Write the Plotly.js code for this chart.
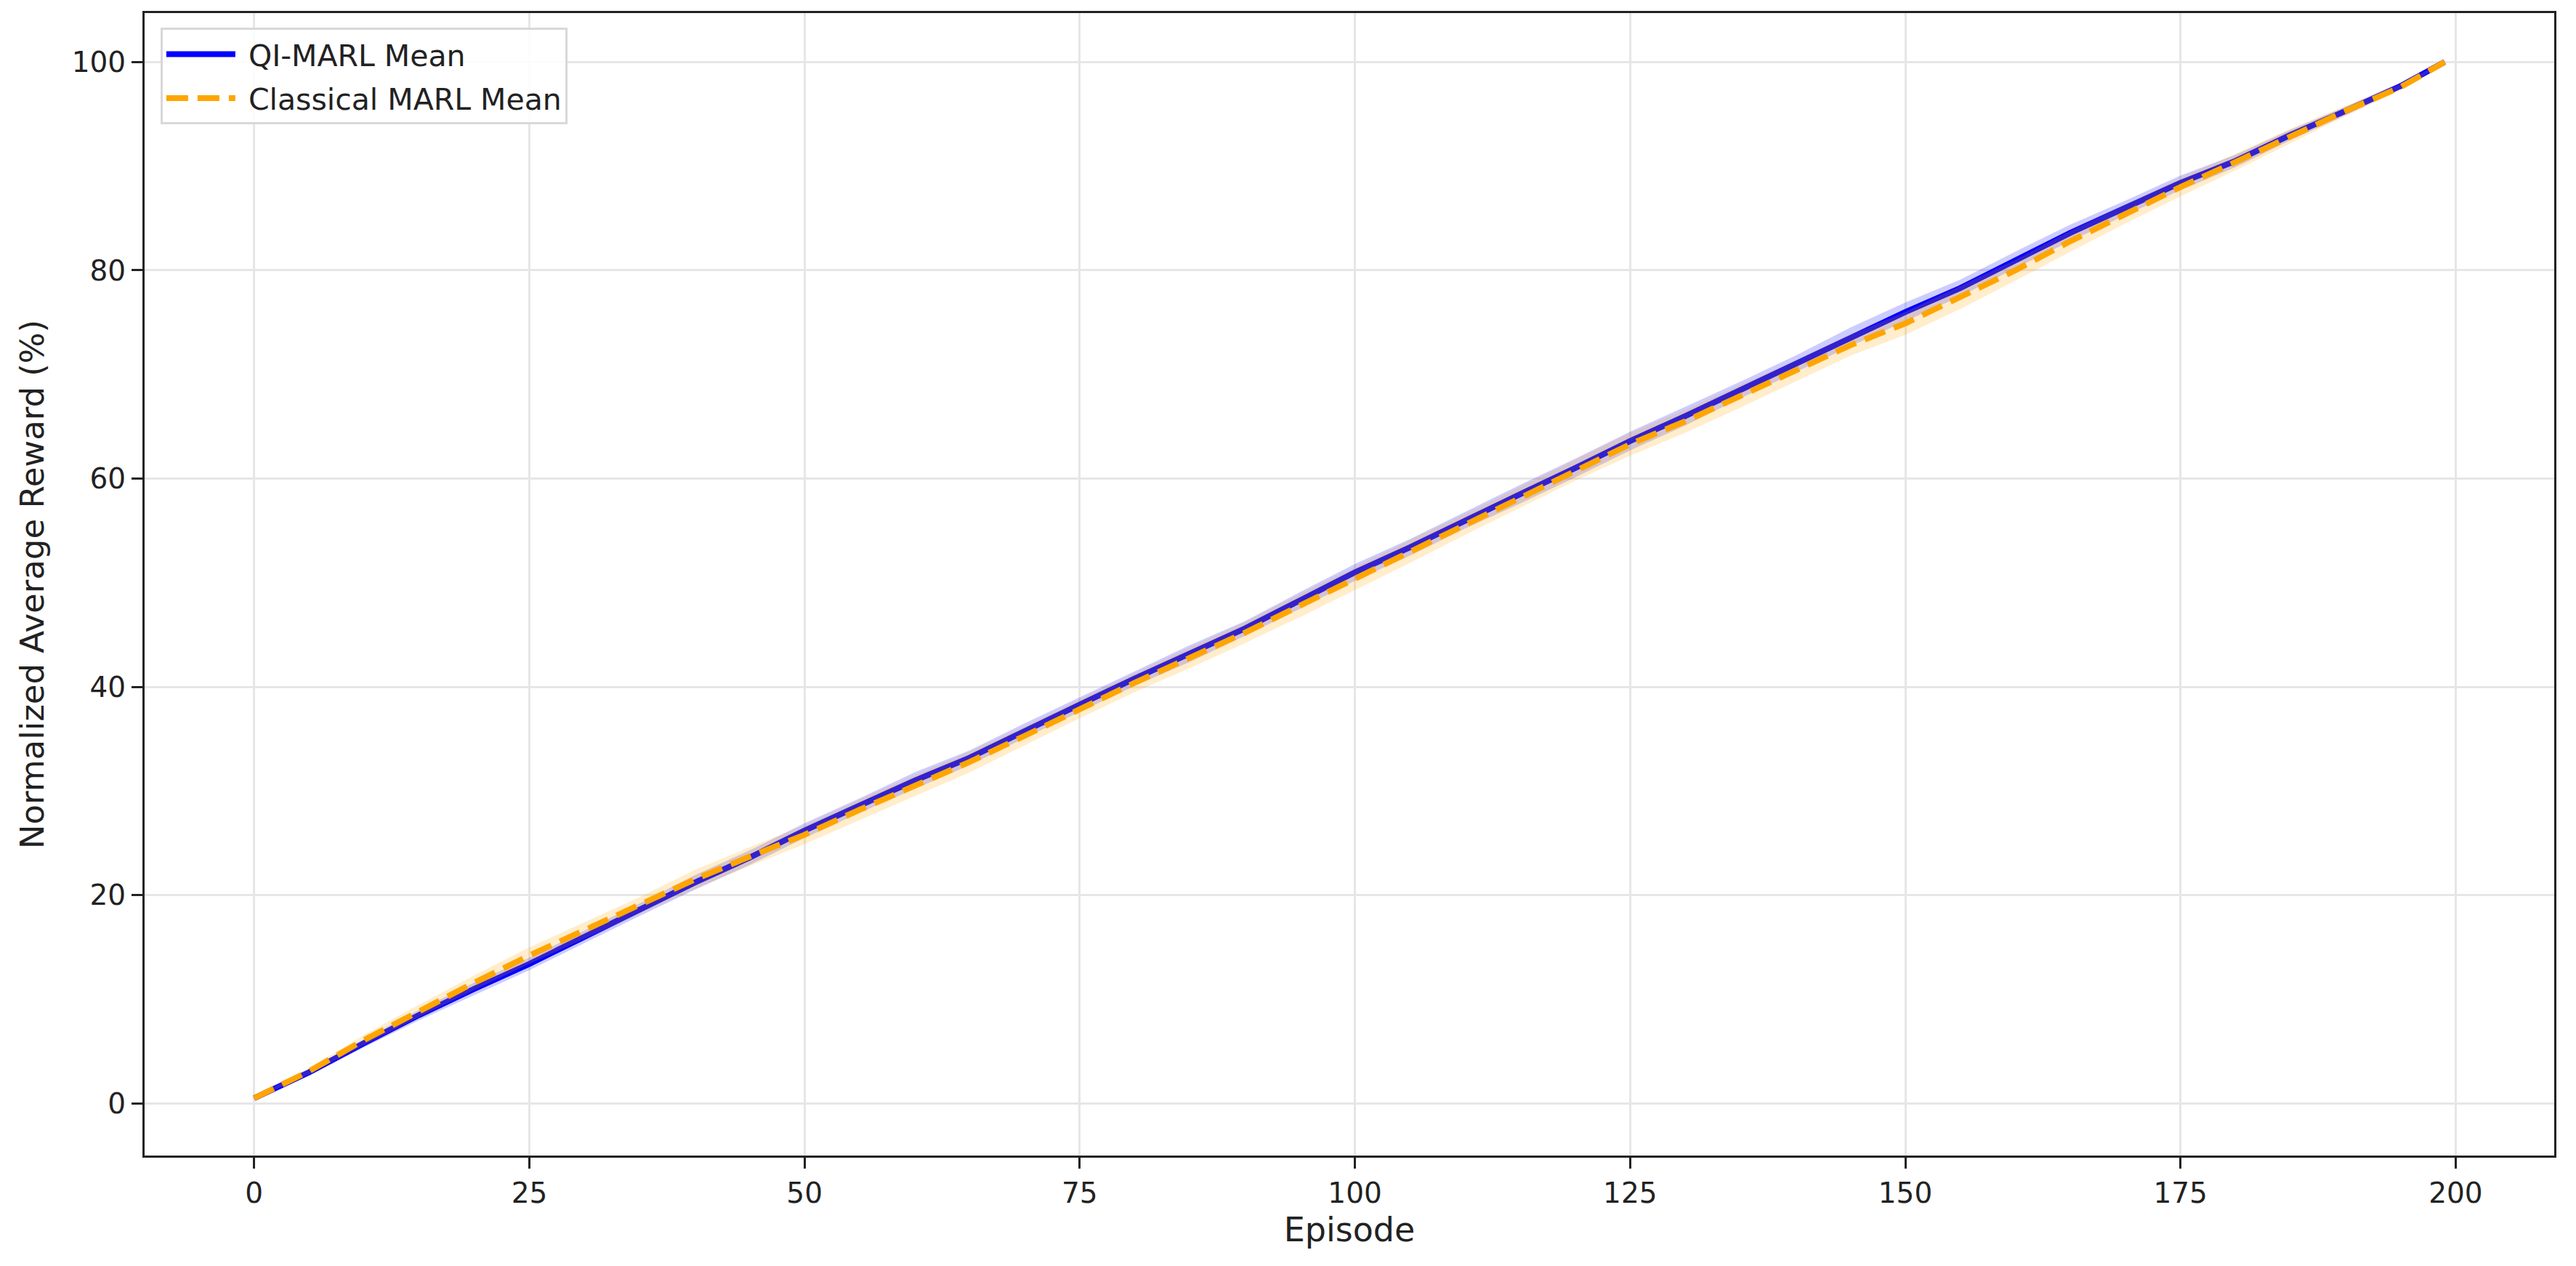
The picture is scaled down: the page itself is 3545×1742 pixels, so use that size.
<!DOCTYPE html>
<html>
<head>
<meta charset="utf-8">
<script src="https://cdn.plot.ly/plotly-3.0.1.min.js"></script>
<style>html,body{margin:0;padding:0;background:#fff;}#chart{width:3545px;height:1742px;}</style>
</head>
<body>
<div id="chart"></div>
<script>
const episodes = [0,5,10,15,20,25,30,35,40,45,50,55,60,65,70,75,80,85,90,95,100,105,110,115,120,125,130,135,140,145,150,155,160,165,170,175,180,185,190,195,199];
const qiMean = [0.5,3.0,5.8,8.5,11.0,13.4,16.0,18.6,21.2,23.6,26.2,28.6,31.0,33.2,35.8,38.3,40.8,43.2,45.6,48.3,51.0,53.4,56.0,58.5,61.0,63.6,66.0,68.5,71.0,73.6,76.0,78.3,81.0,83.6,86.0,88.4,90.5,93.0,95.3,97.7,100.0];
const qiStd = [0.1,0.3,0.4,0.5,0.6,0.6,0.6,0.6,0.7,0.7,0.7,0.7,0.8,0.7,0.7,0.7,0.7,0.8,0.7,0.8,0.8,0.8,0.8,0.9,0.9,0.9,0.9,0.8,0.8,0.9,0.9,0.8,0.8,0.8,0.7,0.7,0.6,0.5,0.4,0.3,0.1];
const clMean = [0.5,3.1,6.1,8.9,11.6,14.2,16.6,19.0,21.5,23.7,25.8,28.2,30.5,32.8,35.3,37.9,40.4,42.8,45.2,47.8,50.4,53.0,55.6,58.2,60.8,63.3,65.5,67.9,70.3,72.8,74.9,77.4,80.0,82.8,85.4,88.0,90.4,92.9,95.3,97.6,100.0];
const clStd = [0.1,0.3,0.5,0.6,0.7,0.8,0.8,0.8,0.9,0.9,0.9,1.0,1.0,1.0,0.9,0.9,0.9,1.0,1.0,1.1,1.1,1.1,1.0,1.0,1.0,1.1,1.1,1.1,1.0,1.0,1.1,1.1,1.0,1.0,0.9,0.9,0.8,0.7,0.5,0.3,0.1];
const xTicks = [0,25,50,75,100,125,150,175,200];
const yTicks = [0,20,40,60,80,100];
const seriesNames = ['QI-MARL Mean', 'Classical MARL Mean'];

function band(mean, std) {
  const up = mean.map((m, i) => m + std[i]);
  const lo = mean.map((m, i) => m - std[i]);
  return {x: episodes.concat(episodes.slice().reverse()), y: up.concat(lo.slice().reverse())};
}
const qb = band(qiMean, qiStd), cb = band(clMean, clStd);
const pad = '\u00a0';

const traces = [
  {x: qb.x, y: qb.y, type: 'scatter', mode: 'lines', fill: 'toself', fillcolor: 'rgba(0,0,255,0.2)', line: {width: 0}, hoverinfo: 'skip', showlegend: false},
  {x: episodes, y: qiMean, type: 'scatter', mode: 'lines', name: pad + seriesNames[0], legendgroup: 'a', line: {color: '#0000ff', width: 8}},
  {x: cb.x, y: cb.y, type: 'scatter', mode: 'lines', fill: 'toself', fillcolor: 'rgba(255,165,0,0.2)', line: {width: 0}, hoverinfo: 'skip', showlegend: false},
  {x: episodes, y: clMean, type: 'scatter', mode: 'lines', name: pad + seriesNames[1], legendgroup: 'b', line: {color: '#ffa500', width: 8, dash: '30px,13px'}}
];

const axisCommon = {
  showline: true, mirror: true, linecolor: '#222', linewidth: 3,
  ticks: 'outside', ticklen: 15, tickwidth: 3, tickcolor: '#222',
  showgrid: true, gridcolor: '#e6e6e6', gridwidth: 3,
  zeroline: false, tickfont: {family: 'DejaVu Sans', size: 39, color: '#222'}
};

const layout = {
  width: 3545, height: 1742,
  margin: {l: 199, r: 30, t: 18, b: 152},
  paper_bgcolor: '#fff', plot_bgcolor: '#fff',
  font: {family: 'DejaVu Sans', color: '#222'},
  xaxis: Object.assign({}, axisCommon, {
    range: [-9.95, 208.95], tickvals: xTicks, ticktext: xTicks.map(String),
    title: {text: 'Episode', font: {family: 'DejaVu Sans', size: 46, color: '#222'}, standoff: 14}
  }),
  yaxis: Object.assign({}, axisCommon, {
    range: [-5.0, 104.7], tickvals: yTicks, ticktext: yTicks.map(String),
    title: {text: 'Normalized Average Reward (%)', font: {family: 'DejaVu Sans', size: 45, color: '#222'}, standoff: 24}
  }),
  legend: {
    x: 0.0066, y: 0.987, xanchor: 'left', yanchor: 'top',
    bgcolor: 'rgba(255,255,255,0.85)', bordercolor: '#d8d8d8', borderwidth: 3,
    font: {family: 'DejaVu Sans', size: 41, color: '#222'},
    itemwidth: 95, tracegroupgap: 4
  },
  showlegend: true
};

Plotly.newPlot('chart', traces, layout, {displayModeBar: false, staticPlot: true});
</script>
</body>
</html>
